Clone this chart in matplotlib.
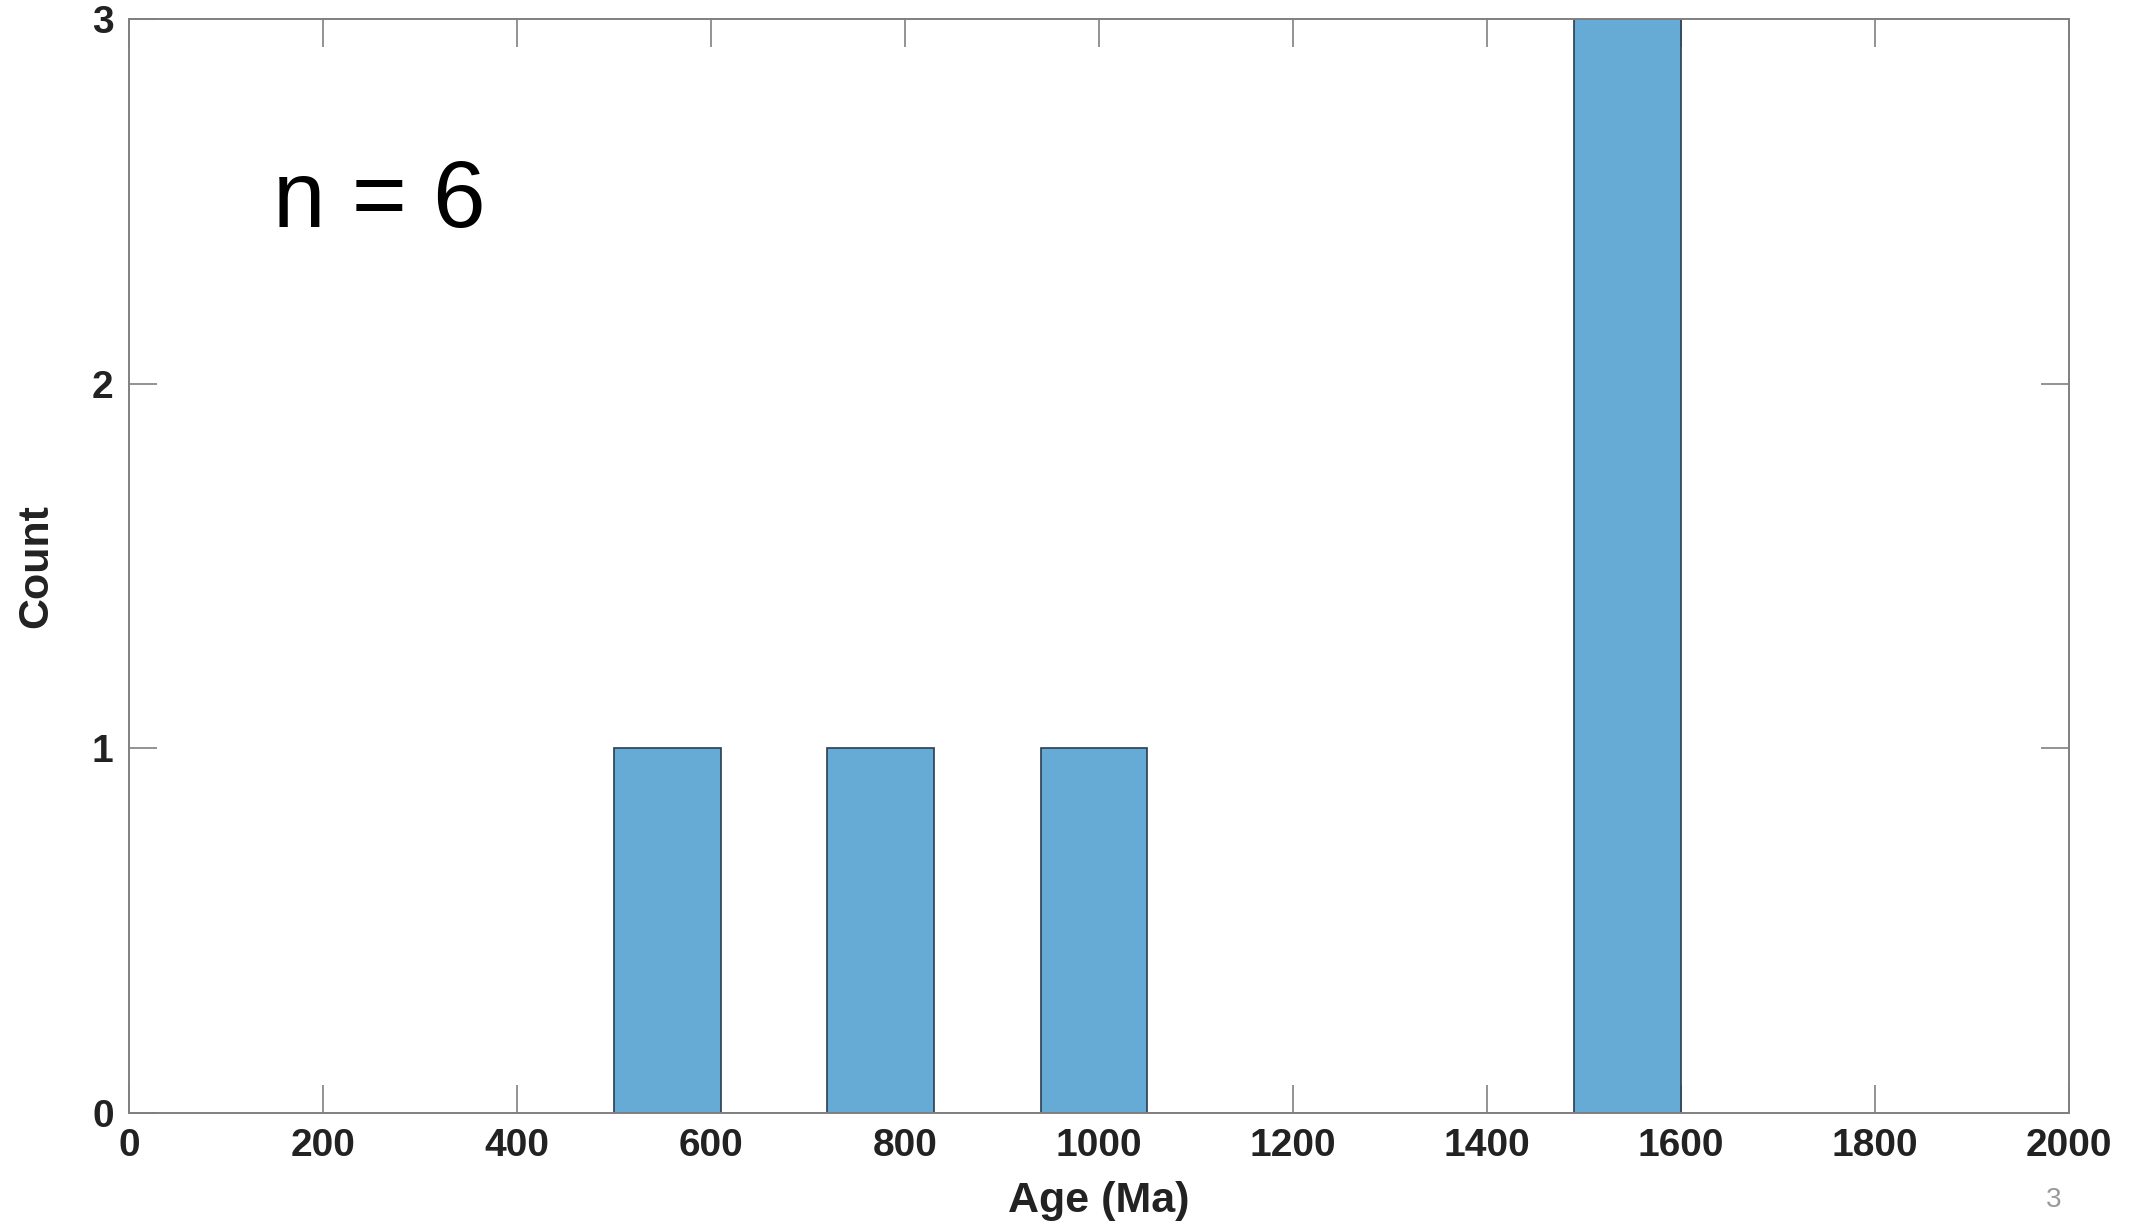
import numpy as np
import matplotlib
matplotlib.use("Agg")
import matplotlib.pyplot as plt

# histogram of ages (Ma), bin width 110
bin_edges = [500, 610, 720, 830, 940, 1050, 1160, 1270, 1380, 1490, 1600]
counts = [1, 0, 1, 0, 1, 0, 0, 0, 0, 3]
x_ticks = [0, 200, 400, 600, 800, 1000, 1200, 1400, 1600, 1800, 2000]
y_ticks = [0, 1, 2, 3]
n_label = "n = 6"

plt.rcParams["font.family"] = ["Liberation Sans", "DejaVu Sans"]

fig = plt.figure(figsize=(21.36, 12.28), dpi=100)
ax = fig.add_axes([0.0604, 0.0936, 0.9082, 0.8909])

edges = np.array(bin_edges, dtype=float)
ax.bar(edges[:-1], counts, width=np.diff(edges), align="edge",
       color="#66aad6", edgecolor="#2a3d50", linewidth=1.2, zorder=2)

ax.set_xlim(0, 2000)
ax.set_ylim(0, 3)
ax.set_xticks(x_ticks)
ax.set_yticks(y_ticks)
ax.tick_params(direction="in", length=20, width=1.2, color="#808080",
               top=True, right=True, labelsize=28, pad=11)
for lab in ax.get_xticklabels() + ax.get_yticklabels():
    lab.set_fontweight("bold")
    lab.set_color("#222222")
for sp in ax.spines.values():
    sp.set_color("#808080")
    sp.set_linewidth(1.4)
    sp.set_zorder(3)

ax.set_xlabel("Age (Ma)", fontsize=31, fontweight="bold", color="#222222", labelpad=12)
ax.set_ylabel("Count", fontsize=31, fontweight="bold", color="#222222", labelpad=26)

ax.text(148, 2.43, n_label, fontsize=68, va="baseline", ha="left", color="black")

fig.text(2054 / 2136, 1 - 1200 / 1228, "3", fontsize=20, color="#999999",
         ha="center", va="center")

fig.savefig("out.png", dpi=100)
